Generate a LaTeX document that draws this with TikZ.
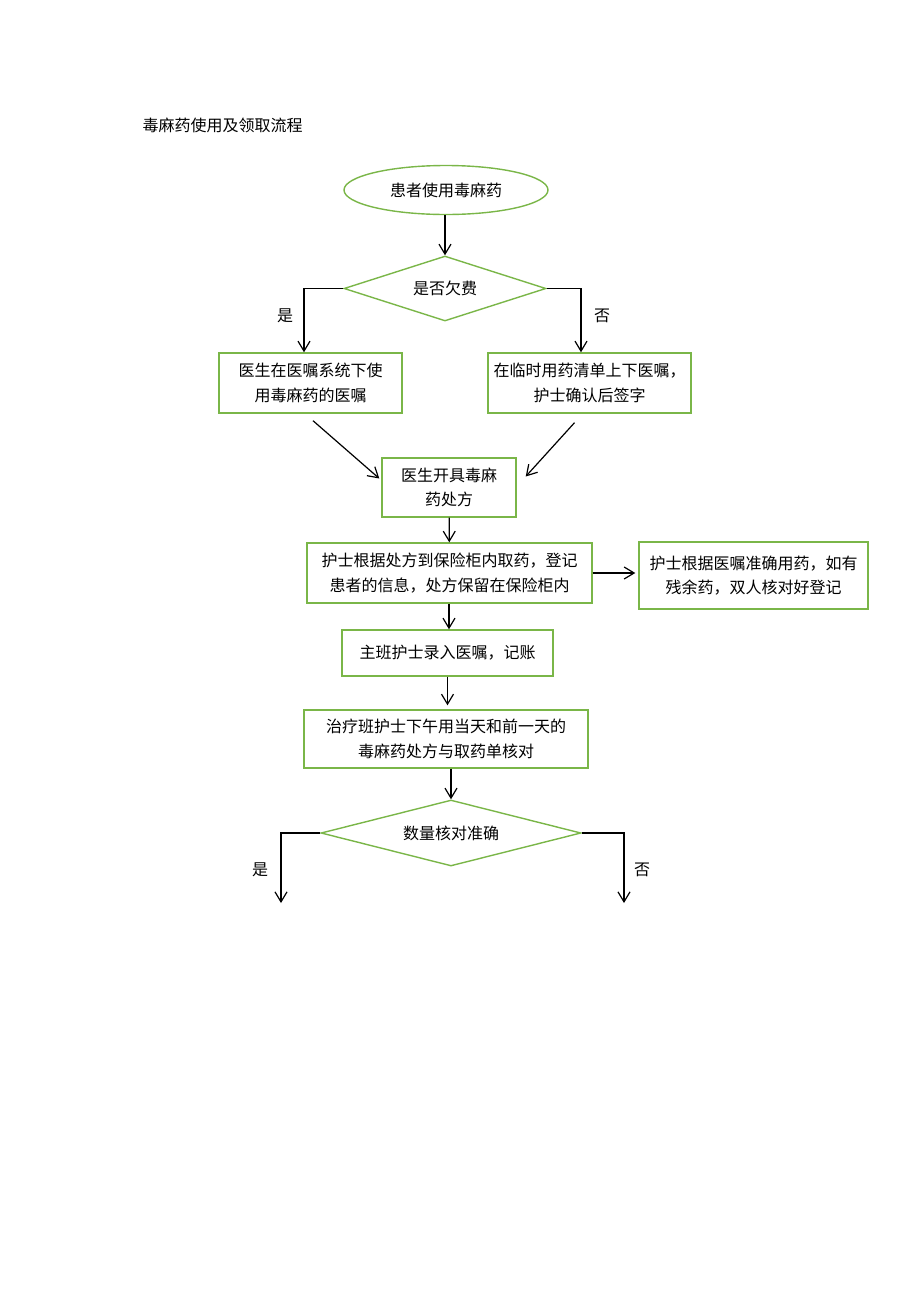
\documentclass[tikz,border=0pt]{standalone}
\usepackage{fontspec}
\setmainfont{Noto Sans CJK SC}
\usetikzlibrary{shapes.geometric,arrows.meta}
\definecolor{boxgreen}{RGB}{122,182,72}
\begin{document}
\begin{tikzpicture}[x=1pt,y=-1pt,
    font=\fontsize{16}{24.5}\selectfont,
    box/.style={draw=boxgreen,line width=1.4pt,align=center,inner sep=0pt},
    ask/.style={draw=boxgreen,line width=1.4pt,diamond,inner sep=0pt},
    link/.style={line width=1.2pt,-{Straight Barb[length=10pt,width=12pt,line width=1.2pt]}}]
  \useasboundingbox (0,0) rectangle (920,1302);
  \node[anchor=west] (title) at (139,125) {毒麻药使用及领取流程};
  \node[box,ellipse,minimum width=204pt,minimum height=49pt] (start) at (446,190) {患者使用毒麻药};
  \node[ask,aspect=3.1,minimum width=202pt,minimum height=65pt] (owe) at (445,288.5) {是否欠费};
  \node[box,minimum width=183pt,minimum height=60pt] (order) at (310.5,383) {医生在医嘱系统下使\\用毒麻药的医嘱};
  \node[box,minimum width=203pt,minimum height=60pt] (temp) at (589.5,383) {在临时用药清单上下医嘱，\\护士确认后签字};
  \node[box,minimum width=134pt,minimum height=59pt] (rx) at (449,487.5) {医生开具毒麻\\药处方};
  \node[box,minimum width=285pt,minimum height=60pt] (fetch) at (449.5,573) {护士根据处方到保险柜内取药，登记\\患者的信息，处方保留在保险柜内};
  \node[box,minimum width=229pt,minimum height=67pt] (use) at (753.5,575.5) {护士根据医嘱准确用药，如有\\残余药，双人核对好登记};
  \node[box,minimum width=211pt,minimum height=46pt] (enter) at (447.5,653) {主班护士录入医嘱，记账};
  \node[box,minimum width=284pt,minimum height=58pt] (check) at (446,739) {治疗班护士下午用当天和前一天的\\毒麻药处方与取药单核对};
  \node[ask,aspect=3.94,minimum width=260pt,minimum height=66pt] (count) at (451,833) {数量核对准确};
  \coordinate (yesend) at (281,903);
  \coordinate (noend) at (624,903);
  \node (yes1) at (285,316) {是};
  \node (no1) at (602,316) {否};
  \node (yes2) at (260,870) {是};
  \node (no2) at (642,870) {否};
  % connectors
  \draw[link] (owe.north |- start.south) -- (owe.north);
  \draw[link] (owe.west) -| ([xshift=-6.5pt]order.north);
  \draw[link] (owe.east) -| ([xshift=-8.5pt]temp.north);
  \draw[link] ([xshift=2.5pt,yshift=-7pt]order.south) -- ([xshift=-2pt,yshift=9pt]rx.west);
  \draw[link] ([xshift=-15pt,yshift=-9pt]temp.south) -- ([xshift=9pt,yshift=11pt]rx.east);
  \draw[link] (rx) -- (fetch);
  \draw[link,shorten >=3pt] (fetch.east) -- (fetch.east -| use.west);
  \draw[link] (rx.south |- fetch.south) -- (rx.south |- enter.north);
  \draw[link,shorten >=4pt] (enter.south) -- (enter.south |- check.north);
  \draw[link] (count.north |- check.south) -- (count.north);
  \draw[link] (count.west) -| (yesend);
  \draw[link] (count.east) -| (noend);
\end{tikzpicture}
\end{document}
